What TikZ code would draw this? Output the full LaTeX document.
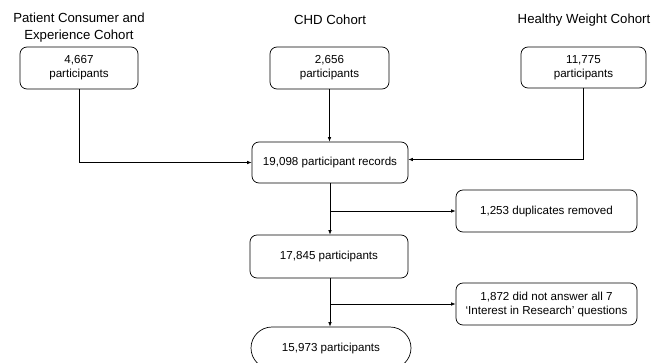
\documentclass[tikz,border=0pt]{standalone}
\usepackage{fontspec}
\setmainfont{Liberation Sans}
\usetikzlibrary{arrows.meta,shapes.misc}
\begin{document}
\begin{tikzpicture}[x=1pt,y=1pt,
  boxtext/.style={font=\fontsize{11.6}{14}\selectfont},
  titletext/.style={font=\fontsize{13.2}{17}\selectfont, align=center, inner sep=0pt},
  box/.style={draw, line width=0.7pt, rounded corners=7pt, align=center, boxtext, inner sep=0pt},
  ovalbox/.style={draw, line width=0.7pt, rounded rectangle, align=center, boxtext, inner sep=0pt},
  conn/.style={line width=0.7pt, -{Latex[length=4.5pt,width=3.5pt]}},
  plain/.style={line width=0.7pt}
]
\useasboundingbox (0,0) rectangle (662,-362);
% titles
\node[titletext] (t1) at (79,-28) {Patient Consumer and\\Experience Cohort};
\node[titletext] (t2) at (330,-20) {CHD Cohort};
\node[titletext] (t3) at (584,-20) {Healthy Weight Cohort};
% boxes
\node[box, minimum width=118pt, minimum height=42pt] (b1) at (79,-68) {4,667\\participants};
\node[box, minimum width=119pt, minimum height=42pt] (b2) at (329.5,-68) {2,656\\participants};
\node[box, minimum width=125pt, minimum height=41pt] (b3) at (583.5,-67.5) {11,775\\participants};
\node[box, minimum width=156pt, minimum height=41pt] (b4) at (330,-162.5) {19,098 participant records};
\node[box, minimum width=181pt, minimum height=42pt] (d1) at (546.5,-211) {1,253 duplicates removed};
\node[box, minimum width=158pt, minimum height=43pt] (b5) at (329,-256.5) {17,845 participants};
\node[box, minimum width=181pt, minimum height=42pt] (d2) at (546.5,-304) {1,872 did not answer all 7\\‘Interest in Research’ questions};
\node[ovalbox, minimum width=160pt, minimum height=42pt] (b6) at (331,-348) {15,973 participants};
% connectors
\draw[conn] (b1.south) |- (b4.west);
\draw[conn] (b2.south) -- (b2.south |- b4.north);
\coordinate (r1) at ([yshift=3pt]b4.east);
\draw[conn] (b3.south) |- (r1);
\draw[conn] (b4.south -| 330,0) -- (330,0 |- b5.north);
\coordinate (br1) at (330,0 |- d1.west);
\draw[conn] (br1) -- (d1.west);
\draw[conn] (b5.south -| 330,0) -- (330,0 |- b6.north);
\coordinate (br2) at (330,0 |- d2.west);
\draw[conn] (br2) -- (d2.west);
\end{tikzpicture}
\end{document}
